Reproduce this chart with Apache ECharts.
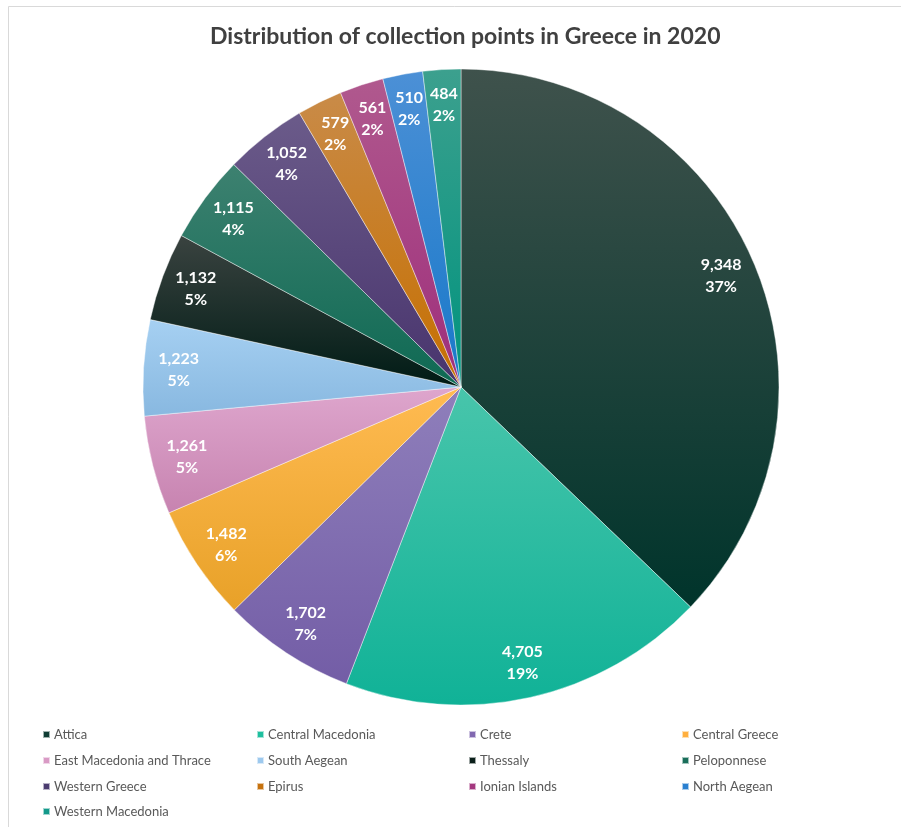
<!DOCTYPE html>
<html>
<head>
<meta charset="utf-8">
<script src="https://cdn.jsdelivr.net/npm/echarts@6/dist/echarts.min.js"></script>
<style>
html,body{margin:0;padding:0;background:#fff;}
#chart{width:901px;height:827px;}
</style>
</head>
<body>
<div id="chart"></div>
<script>
var titleText = "Distribution of collection points in Greece in 2020";
var regions = ["Attica","Central Macedonia","Crete","Central Greece","East Macedonia and Thrace","South Aegean","Thessaly","Peloponnese","Western Greece","Epirus","Ionian Islands","North Aegean","Western Macedonia"];
var points = [9348,4705,1702,1482,1261,1223,1132,1115,1052,579,561,510,484];
var topColors = ["#3f524c","#48c5ab","#8f7fbb","#ffbb52","#dea6cd","#a6d0f2","#3a4340","#3d8170","#6b5b8a","#c98b48","#b0598e","#4c90d6","#3ca08e"];
var bottomColors = ["#00342b","#10b297","#735da6","#e8a128","#c783b0","#88b8e0","#001b15","#0e6953","#48346d","#c66f00","#9e2e7b","#1878c9","#00937e"];
var swatchColors = ["#0f3d34","#1fbf9f","#8168b0","#ffaf3e","#d99ac5","#9dc9ee","#0a1f1a","#1a6e5a","#4b3c70","#c6720e","#a4387f","#2a80d0","#13998a"];

var CX = 461, CY = 387, R = 318;

var sliceData = regions.map(function(n, i){
  return {
    name: n, value: points[i],
    itemStyle: {
      color: {type:'linear', x:0, y:0, x2:0, y2:1,
        colorStops:[{offset:0,color:topColors[i]},{offset:1,color:bottomColors[i]}]}
    }
  };
});
var labelData = regions.map(function(n, i){ return {name:n, value:points[i]}; });

var colX = [42, 256, 468, 681];
var rowY = [727, 753, 779, 804];
var legends = regions.map(function(n, i){
  return {
    orient:'horizontal', left: colX[i % 4], top: rowY[Math.floor(i / 4)],
    itemWidth: 7, itemHeight: 7, icon: 'rect', itemGap: 0, padding: 0,
    selectedMode: false,
    textStyle: {fontFamily:'Lato', fontSize: 13, color:'#595959', lineHeight: 15, padding:[0,0,0,-1]},
    data: [{name: n, itemStyle:{color: swatchColors[i]}}]
  };
});

var chart = echarts.init(document.getElementById('chart'), null, {renderer:'canvas'});
chart.setOption({
  backgroundColor:'#ffffff',
  animation:false,
  title: {
    text: titleText, left: 205, top: 20,
    textStyle: {fontFamily:'Lato', fontWeight:'bold', fontSize: 23, color:'#404040'}
  },
  legend: legends,
  graphic: [
    {type:'line', shape:{x1:8.5, y1:6.5, x2:901, y2:6.5}, style:{stroke:'#d9d9d9', lineWidth:1}, silent:true},
    {type:'line', shape:{x1:8.5, y1:6.5, x2:8.5, y2:827}, style:{stroke:'#d9d9d9', lineWidth:1}, silent:true}
  ],
  series: [
    {
      type:'pie', center:[CX, CY], radius:[0, R],
      startAngle: 90, clockwise: true,
      label:{show:false}, labelLine:{show:false},
      itemStyle:{borderColor:'rgba(255,255,255,0.6)', borderWidth:0.7},
      emphasis:{disabled:true},
      data: sliceData
    },
    {
      type:'pie', center:[CX, CY], radius:[R*0.76, R],
      startAngle: 90, clockwise: true, silent:true,
      itemStyle:{color:'rgba(0,0,0,0)'},
      labelLine:{show:false},
      emphasis:{disabled:true},
      label:{
        show:true, position:'inside',
        fontFamily:'Lato', fontWeight:'bold', fontSize:16, lineHeight:22, color:'#ffffff',
        formatter: function(p){ return p.value.toLocaleString('en-US') + '\n' + Math.round(p.percent) + '%'; }
      },
      data: labelData
    }
  ]
});
</script>
</body>
</html>
